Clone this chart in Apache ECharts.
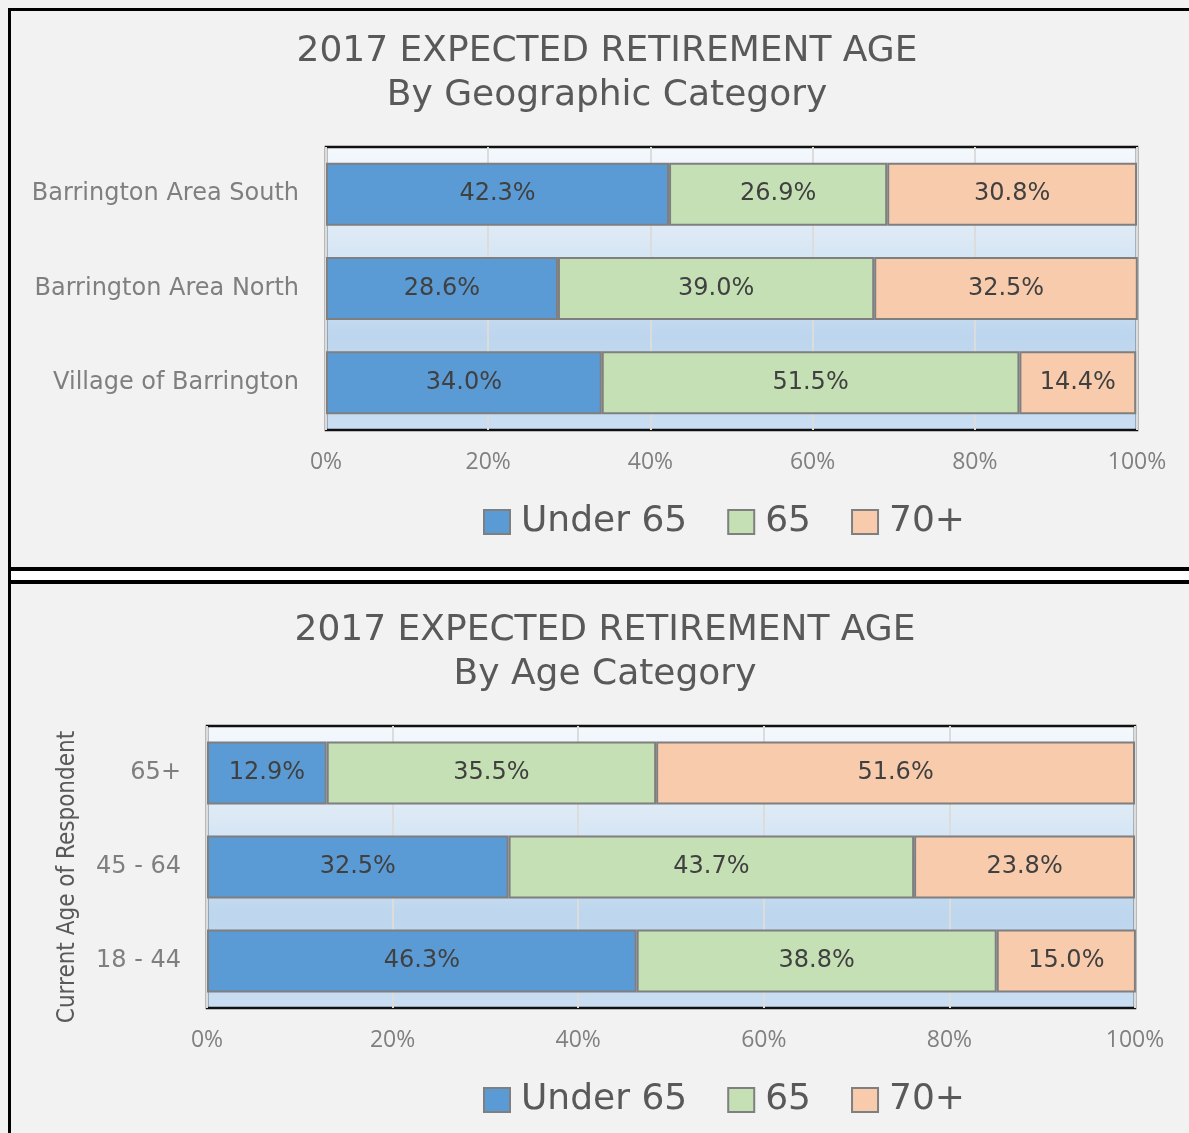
<!DOCTYPE html>
<html>
<head>
<meta charset="utf-8">
<script src="https://cdn.jsdelivr.net/npm/echarts@6/dist/echarts.min.js"></script>
<style>
  html, body { margin: 0; padding: 0; background: #f2f2f2; }
  #chart { width: 1189px; height: 1133px; }
</style>
</head>
<body>
<div id="chart"></div>
<script>
const geoCategories = ['Barrington Area South', 'Barrington Area North', 'Village of Barrington'];
const ageCategories = ['65+', '45 - 64', '18 - 44'];
const seriesNames = ['Under 65', '65', '70+'];
const seriesColors = ['#5b9bd5', '#c5e0b4', '#f8cbad'];

const geoUnder65 = [42.3, 28.6, 34.0];
const geo65 = [26.9, 39.0, 51.5];
const geo70plus = [30.8, 32.5, 14.4];

const ageUnder65 = [12.9, 32.5, 46.3];
const age65 = [35.5, 43.7, 38.8];
const age70plus = [51.6, 23.8, 15.0];

const xTicks = [0, 20, 40, 60, 80, 100];

const chart = echarts.init(document.getElementById('chart'));

// plot area fill: light at the top, blue towards the bottom
const plotBg = {
  type: 'linear', x: 0, y: 0, x2: 0, y2: 1,
  colorStops: [
    { offset: 0, color: '#f5f9fd' },
    { offset: 0.34, color: '#dae8f5' },
    { offset: 0.67, color: '#bdd6ee' },
    { offset: 1, color: '#c9def2' }
  ]
};

function gridCfg(left, top, width, height) {
  return {
    left, top, width, height,
    show: true,
    backgroundColor: plotBg,
    borderColor: '#111',
    borderWidth: 2.5,
    containLabel: false
  };
}

function xAxisCfg(gridIndex) {
  return {
    type: 'value',
    gridIndex,
    min: xTicks[0],
    max: xTicks[xTicks.length - 1],
    interval: 20,
    axisLine: { show: false },
    axisTick: { show: false },
    splitLine: { lineStyle: { color: '#dcdcdc', width: 2 } },
    axisLabel: {
      formatter: '{value}%',
      color: '#808080',
      fontFamily: 'Open Sans',
      fontSize: 23,
      margin: 21
    }
  };
}

function yAxisCfg(gridIndex, data, margin, extra) {
  return Object.assign({
    type: 'category',
    gridIndex,
    data,
    inverse: true,
    axisLine: { show: false },
    axisTick: { show: false },
    axisLabel: {
      color: '#7f7f7f',
      fontFamily: 'DejaVu Sans',
      fontSize: 24,
      margin
    }
  }, extra || {});
}

function barSeries(name, idx, data, gridIdx, stack) {
  return {
    name,
    type: 'bar',
    stack,
    xAxisIndex: gridIdx,
    yAxisIndex: gridIdx,
    barWidth: 63,
    data,
    itemStyle: { color: seriesColors[idx], borderColor: '#7f7f7f', borderWidth: 2 },
    label: {
      show: true,
      position: 'inside',
      color: '#404040',
      fontFamily: 'DejaVu Sans',
      fontSize: 24,
      formatter: p => p.value.toFixed(1) + '%'
    },
    emphasis: { disabled: true }
  };
}

const titleStyle = {
  color: '#595959',
  fontFamily: 'DejaVu Sans',
  fontSize: 36,
  fontWeight: 'normal',
  lineHeight: 44
};

const legendBase = {
  left: 483,
  padding: 0,
  itemWidth: 26,
  itemHeight: 24,
  itemGap: 40,
  icon: 'rect',
  data: seriesNames,
  selectedMode: false,
  textStyle: { color: '#595959', fontFamily: 'DejaVu Sans', fontSize: 36, padding: [0, 0, 0, 6] }
};

chart.setOption({
  backgroundColor: '#f2f2f2',
  animation: false,
  title: [
    { text: '2017 EXPECTED RETIREMENT AGE\nBy Geographic Category', left: 602, top: 25, textAlign: 'center', textStyle: titleStyle },
    { text: '2017 EXPECTED RETIREMENT AGE\nBy Age Category', left: 600, top: 604, textAlign: 'center', textStyle: titleStyle }
  ],
  legend: [
    Object.assign({}, legendBase, { top: 504 }),
    Object.assign({}, legendBase, { top: 1082 })
  ],
  grid: [
    gridCfg(326, 147, 811, 283),
    gridCfg(207, 726, 928, 282)
  ],
  xAxis: [xAxisCfg(0), xAxisCfg(1)],
  yAxis: [
    yAxisCfg(0, geoCategories, 27),
    yAxisCfg(1, ageCategories, 26, {
      name: 'Current Age of Respondent',
      nameLocation: 'middle',
      nameRotate: 90,
      nameGap: 127,
      nameTextStyle: {
        color: '#595959',
        fontFamily: 'DejaVu Sans Condensed',
        fontSize: 24,
        padding: [0, 20, 0, 0]
      }
    })
  ],
  series: [
    barSeries(seriesNames[0], 0, geoUnder65, 0, 'geo'),
    barSeries(seriesNames[1], 1, geo65, 0, 'geo'),
    barSeries(seriesNames[2], 2, geo70plus, 0, 'geo'),
    barSeries(seriesNames[0], 0, ageUnder65, 1, 'age'),
    barSeries(seriesNames[1], 1, age65, 1, 'age'),
    barSeries(seriesNames[2], 2, age70plus, 1, 'age')
  ],
  graphic: [
    // panel frames
    { type: 'rect', shape: { x: 8, y: 8, width: 1190, height: 3 }, style: { fill: '#000' }, silent: true },
    { type: 'rect', shape: { x: 8, y: 8, width: 3, height: 1130 }, style: { fill: '#000' }, silent: true },
    { type: 'rect', shape: { x: 8, y: 567, width: 1190, height: 4 }, style: { fill: '#000' }, silent: true },
    { type: 'rect', shape: { x: 11, y: 571, width: 1190, height: 9 }, style: { fill: '#fff' }, silent: true },
    { type: 'rect', shape: { x: 8, y: 580, width: 1190, height: 4 }, style: { fill: '#000' }, silent: true }
  ]
});
</script>
</body>
</html>
